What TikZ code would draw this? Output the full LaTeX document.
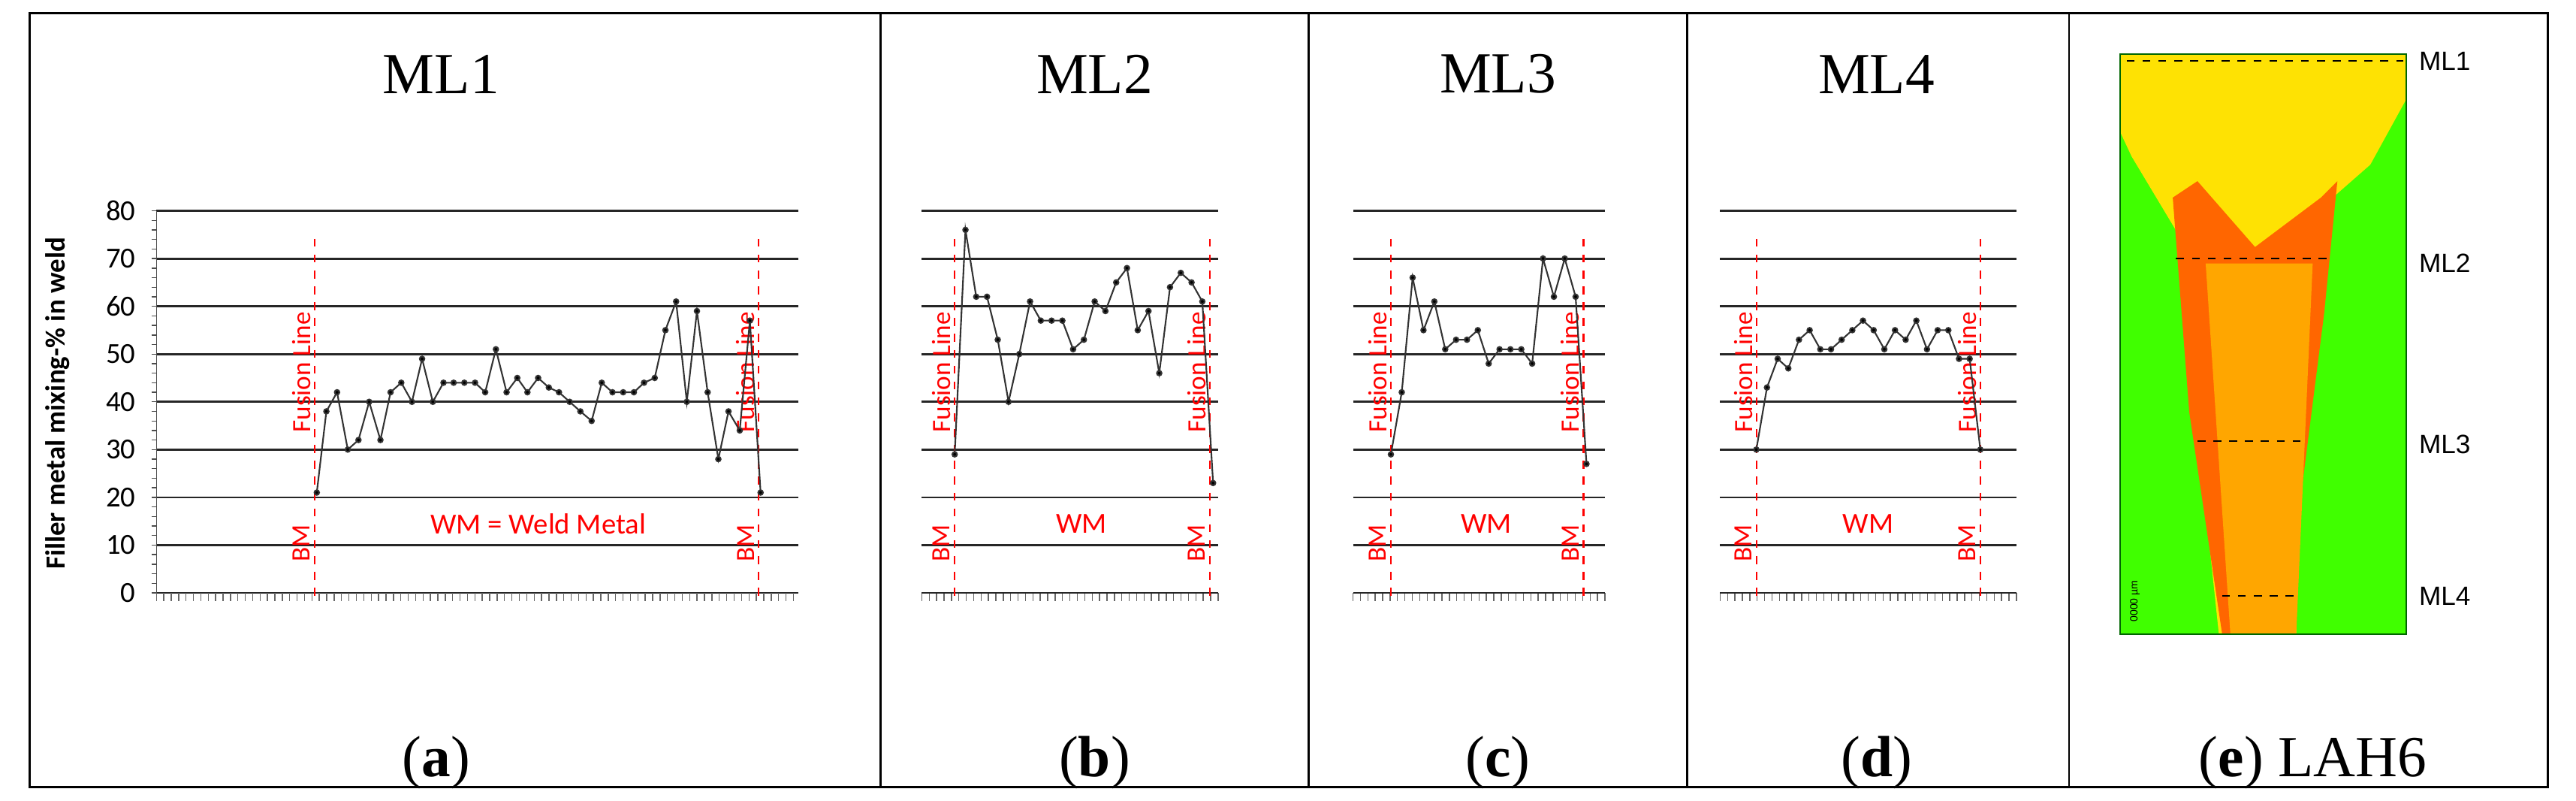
\documentclass[tikz,border=0pt]{standalone}
\usepackage{fontspec}
\setmainfont{Liberation Serif}
\newfontfamily\carl{Carlito}
\newfontfamily\ars{Liberation Sans}
\begin{document}
\begin{tikzpicture}[x=0.0219cm,y=-0.0219cm,
  grid/.style={black!85,line width=0.8pt},
  fus/.style={red,dashed,line width=0.6pt},
  rt/.style={red,font=\carl\fontsize{10}{10}\selectfont},
  ttl/.style={font=\fontsize{22}{22}\selectfont},
  dat/.style={black!80,line width=0.6pt,mark=*,mark size=0.9pt,mark options={fill=black}},
  mlab/.style={font=\ars\fontsize{10}{10}\selectfont,anchor=west}]
\useasboundingbox (0,0) rectangle (1565,486);
\draw[line width=0.8pt] (18,8) rectangle (1548,478);
\foreach \x in {535,795,1025,1257} \draw[line width=0.8pt] (\x,8) -- (\x,478);
% titles
\node[ttl] (t1) at (268,45) {ML1};
\node[ttl] (t2) at (665,45) {ML2};
\node[ttl] (t3) at (910,45) {ML3};
\node[ttl] (t4) at (1140,45) {ML4};
\node[ttl] (la) at (265,463) {(\textbf{a})};
\node[ttl] (lb) at (665,463) {(\textbf{b})};
\node[ttl] (lc) at (910,463) {(\textbf{c})};
\node[ttl] (ld) at (1140,463) {(\textbf{d})};
\node[ttl] (le) at (1405,463) {(\textbf{e}) LAH6};
% panel a axes
\foreach \v in {0,10,...,80} {
  \draw[grid] (95,{360-2.9*\v}) -- (485,{360-2.9*\v});
  \node[font=\carl\fontsize{11}{11}\selectfont,anchor=east] at (88,{360-2.9*\v}) {\v};}
\foreach \v in {0,2,...,80} \draw[black!70] (92,{360-2.9*\v}) -- (95,{360-2.9*\v});
\draw[black!70] (95,128) -- (95,360);
\node[rotate=90,font=\carl\bfseries\fontsize{10.5}{10.5}\selectfont] (ylab) at (35,245) {Filler metal mixing-\% in weld};
% x ticks
\foreach \a/\n in {95/86,560/40,822/34,1045/40}{
  \foreach \i in {0,...,\n} \draw[black!60] ({\a+4.5*\i},360) -- ({\a+4.5*\i},365);}
% grids other panels
\foreach \a/\b in {560/740,822/975,1045/1225}{
  \foreach \v in {0,10,...,80} \draw[grid] (\a,{360-2.9*\v}) -- (\b,{360-2.9*\v});}
% fusion lines and labels
\foreach \f in {191,461,580,735,845,962,1067,1203}{
  \draw[fus] (\f,145) -- (\f,362);
  \node[rt,rotate=90] at ({\f-8},226) {Fusion Line};
  \node[rt,rotate=90] at ({\f-8},330) {BM};}
\node[rt,font=\carl\fontsize{11}{11}\selectfont] (wm1) at (327,318) {WM = Weld Metal};
\node[rt,font=\carl\fontsize{11}{11}\selectfont] (wm2) at (657,318) {WM};
\node[rt,font=\carl\fontsize{11}{11}\selectfont] (wm3) at (903,318) {WM};
\node[rt,font=\carl\fontsize{11}{11}\selectfont] (wm4) at (1135,318) {WM};
% data a
\begin{scope}[shift={(-1.546,360)},x=0.0074898cm,y=0.06351cm]
\draw[dat] plot coordinates {(567,21)(584,38)(603,42)(622,30)(641,32)(660,40)(680,32)(698,42)(717,44)(736,40)(754,49)(773,40)(792,44)(810,44)(829,44)(848,44)(866,42)(885,51)(904,42)(923,45)(941,42)(960,45)(979,43)(997,42)(1016,40)(1035,38)(1055,36)(1073,44)(1092,42)(1111,42)(1130,42)(1148,44)(1167,45)(1186,55)(1205,61)(1224,40)(1242,59)(1261,42)(1280,28)(1298,38)(1318,34)(1336,57)(1355,21)};
\end{scope}
\begin{scope}[shift={(580,360)},x=0.143226cm,y=0.06351cm]
\draw[dat] plot coordinates {(0,29)(1,76)(2,62)(3,62)(4,53)(5,40)(6,50)(7,61)(8,57)(9,57)(10,57)(11,51)(12,53)(13,61)(14,59)(15,65)(16,68)(17,55)(18,59)(19,46)(20,64)(21,67)(22,65)(23,61)(24,23)};
\end{scope}
\begin{scope}[shift={(845,360)},x=0.14454cm,y=0.06351cm]
\draw[dat] plot coordinates {(0,29)(1,42)(2,66)(3,55)(4,61)(5,51)(6,53)(7,53)(8,55)(9,48)(10,51)(11,51)(12,51)(13,48)(14,70)(15,62)(16,70)(17,62)(18,27)};
\end{scope}
\begin{scope}[shift={(1067,360)},x=0.141912cm,y=0.06351cm]
\draw[dat] plot coordinates {(0,30)(1,43)(2,49)(3,47)(4,53)(5,55)(6,51)(7,51)(8,53)(9,55)(10,57)(11,55)(12,51)(13,55)(14,53)(15,57)(16,51)(17,55)(18,55)(19,49)(20,49)(21,30)};
\end{scope}
% panel e macrograph
\fill[green!75!yellow] (1288,33) rectangle (1462,385);
\fill[yellow!85!orange] (1288,33) -- (1462,33) -- (1462,60) -- (1440,100) -- (1400,135) -- (1395,385) -- (1348,385) -- (1322,140) -- (1295,95) -- (1288,80) -- cycle;
\fill[orange!80!red] (1320,120) -- (1335,110) -- (1370,150) -- (1410,120) -- (1420,110) -- (1412,190) -- (1398,300) -- (1393,385) -- (1350,385) -- (1330,250) -- cycle;
\fill[orange!70!yellow] (1340,160) -- (1405,160) -- (1395,385) -- (1355,385) -- cycle;
\draw[green!40!black,line width=0.6pt] (1288,33) rectangle (1462,385);
\draw[dashed,line width=0.6pt] (1292,37) -- (1460,37);
\draw[dashed,line width=0.6pt] (1322,157) -- (1418,157);
\draw[dashed,line width=0.6pt] (1335,268) -- (1400,268);
\draw[dashed,line width=0.6pt] (1350,362) -- (1395,362);
\node[mlab] (m1) at (1464,37) {ML1};
\node[mlab] (m2) at (1464,160) {ML2};
\node[mlab] (m3) at (1464,270) {ML3};
\node[mlab] (m4) at (1464,362) {ML4};
\node[rotate=90,font=\ars\fontsize{4}{4}\selectfont] (sb) at (1297,365) {0000 µm};
\end{tikzpicture}
\end{document}
